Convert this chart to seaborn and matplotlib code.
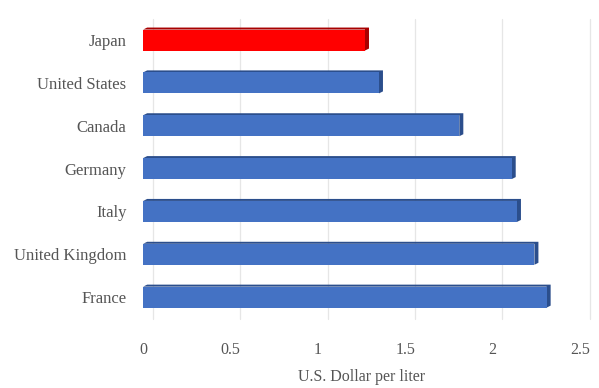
import matplotlib
matplotlib.use("Agg")
import matplotlib.pyplot as plt
from matplotlib.patches import Polygon
import matplotlib.transforms as mtransforms
import seaborn as sns
import pandas as pd

countries = ["Japan", "United States", "Canada", "Germany", "Italy", "United Kingdom", "France"]
prices = [1.27, 1.35, 1.81, 2.11, 2.14, 2.24, 2.31]
highlight = "Japan"
x_ticks = [0, 0.5, 1, 1.5, 2, 2.5]
x_tick_labels = ["0", "0.5", "1", "1.5", "2", "2.5"]
x_title = "U.S. Dollar per liter"

sns.set_theme(style="white")
plt.rcParams["font.family"] = ["Liberation Serif", "DejaVu Serif"]

df = pd.DataFrame({"country": countries, "price": prices})
face = {c: ("#FF0000" if c == highlight else "#4472C4") for c in countries}
side = {c: ("#A80000" if c == highlight else "#2B4E8C") for c in countries}

fig = plt.figure(figsize=(5.99, 3.88), dpi=100)
ax = fig.add_axes([0.239, 0.179, 0.729, 0.773])

# back-wall gridlines, shifted slightly right for depth
wall = mtransforms.offset_copy(ax.get_xaxis_transform(), fig=fig, x=10, y=0, units="dots")
for t in x_ticks:
    ax.plot([t, t], [0, 1], transform=wall, color="#E6E6E6", lw=0.9, zorder=0, clip_on=False)

sns.barplot(data=df, x="price", y="country", hue="country", palette=face,
            orient="h", width=0.49, legend=False, ax=ax, saturation=1, zorder=3)

ax.set_xlim(0, 2.5)
ax.set_ylim(len(countries) - 0.5, -0.5)
ax.set_xticks(x_ticks)
ax.set_xticklabels(x_tick_labels)
ax.set_ylabel("")
ax.set_xlabel(x_title, color="#555555", fontsize=11.5, labelpad=8)
ax.tick_params(axis="x", length=0, pad=17, labelsize=11.5, labelcolor="#555555")
ax.tick_params(axis="y", length=0, pad=12, labelsize=12, labelcolor="#555555")
for s in ax.spines.values():
    s.set_visible(False)

# top and end faces of each bar, built from the bar's own corners in pixels
dx, dy = 4, 2
for patch, c in zip(ax.patches, countries):
    patch.set_edgecolor("none")
    (x0, y0), (x1, y1) = ax.transData.transform(patch.get_bbox().get_points())
    yb, yt = min(y0, y1), max(y0, y1)
    verts = [(x1, yb), (x1 + dx, yb + dy), (x1 + dx, yt + dy),
             (x0 + dx, yt + dy), (x0, yt), (x1, yt)]
    ax.add_patch(Polygon(verts, closed=True, transform=mtransforms.IdentityTransform(),
                         facecolor=side[c], edgecolor="none", zorder=2))

fig.savefig("out.png", dpi=100, facecolor="white")
